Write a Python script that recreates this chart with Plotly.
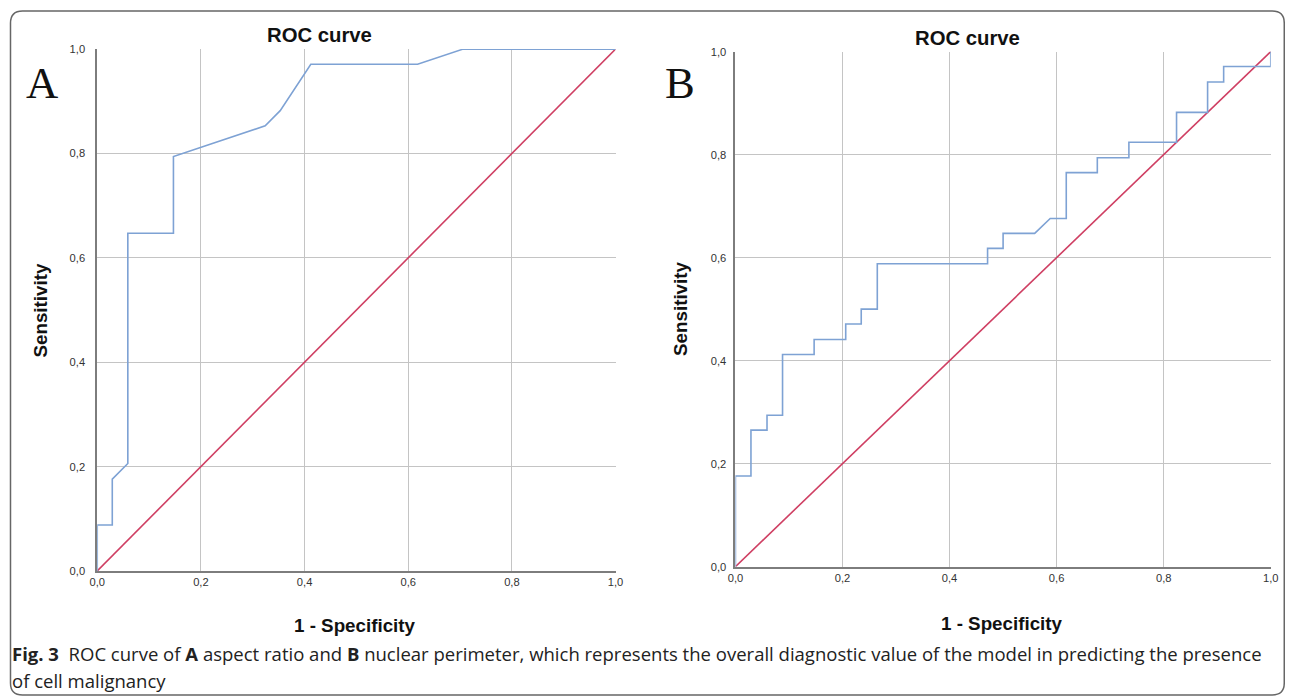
import plotly.graph_objects as go

# The page is photographed slightly scaled and offset; these constants map the
# intended screen position to the figure's own pixel position.
SX, OX = 0.987, 15.5
SY, OY = 0.983, 13.9
W, H = 1290, 695

# ---- data ----
a_fpr = [0.000, 0.000, 0.029, 0.029, 0.059, 0.059, 0.147, 0.147, 0.324, 0.353, 0.412, 0.618, 0.706, 1.000]
a_tpr = [0.000, 0.088, 0.088, 0.176, 0.206, 0.647, 0.647, 0.794, 0.853, 0.882, 0.971, 0.971, 1.000, 1.000]

b_fpr = [0.000, 0.000, 0.029, 0.029, 0.059, 0.059, 0.088, 0.088, 0.147, 0.147, 0.206, 0.206,
         0.235, 0.235, 0.265, 0.265, 0.471, 0.471, 0.500, 0.500, 0.559, 0.588, 0.618, 0.618,
         0.676, 0.676, 0.735, 0.735, 0.824, 0.824, 0.882, 0.882, 0.912, 0.912, 1.000, 1.000]
b_tpr = [0.000, 0.176, 0.176, 0.265, 0.265, 0.294, 0.294, 0.412, 0.412, 0.441, 0.441, 0.471,
         0.471, 0.500, 0.500, 0.588, 0.588, 0.618, 0.618, 0.647, 0.647, 0.676, 0.676, 0.765,
         0.765, 0.794, 0.794, 0.824, 0.824, 0.882, 0.882, 0.941, 0.941, 0.971, 0.971, 1.000]

diag = [0.0, 1.0]

tick_vals = [0.0, 0.2, 0.4, 0.6, 0.8, 1.0]
tick_text = ["0,0", "0,2", "0,4", "0,6", "0,8", "1,0"]
grid_x = [0.2, 0.4, 0.6, 0.8]
grid_y = [0.2, 0.4, 0.6, 0.8, 1.0]

BLUE = "#7ea2d4"
RED = "#cf3f63"
GRID = "#c4c4c4"
AXIS = "#7d7d7d"

def px(x):
    return ((x - OX) / SX) / W

def py(y):
    return 1 - ((y - OY) / SY) / H

def fs(s):
    return s / ((SX + SY) / 2)

fig = go.Figure()

for fpr, tpr, xa, ya in [(a_fpr, a_tpr, "x", "y"), (b_fpr, b_tpr, "x2", "y2")]:
    fig.add_trace(go.Scatter(x=diag, y=diag, mode="lines", xaxis=xa, yaxis=ya,
                             line=dict(color=RED, width=1.6), cliponaxis=False,
                             showlegend=False, hoverinfo="skip"))
    fig.add_trace(go.Scatter(x=fpr, y=tpr, mode="lines", xaxis=xa, yaxis=ya,
                             line=dict(color=BLUE, width=1.6), cliponaxis=False,
                             showlegend=False))

tickfont = dict(family="Liberation Sans, Arial, sans-serif", size=fs(11), color="#333333")

def xaxis(domain, anchor):
    return dict(domain=domain, anchor=anchor, range=[0, 1], tickvals=tick_vals, ticktext=tick_text,
                showgrid=False, zeroline=False, showline=True, linecolor=AXIS, linewidth=1.8,
                ticks="", tickfont=tickfont, fixedrange=True,
                minor=dict(tickvals=grid_x, showgrid=True, gridcolor=GRID, gridwidth=1.2, ticks=""))

def yaxis(domain, anchor, standoff):
    return dict(domain=domain, anchor=anchor, range=[0, 1], tickvals=tick_vals, ticktext=tick_text,
                showgrid=False, zeroline=False, showline=True, linecolor=AXIS, linewidth=1.8,
                ticks="", tickfont=tickfont, ticklabelstandoff=standoff, fixedrange=True,
                minor=dict(tickvals=grid_y, showgrid=True, gridcolor=GRID, gridwidth=1.2, ticks=""))

# panel boxes in screen pixels
ax0, ax1, ay1, ay0 = 96.7, 614.7, 49.0, 571.0
bx0, bx1, by1, by0 = 734.5, 1269.5, 51.5, 566.7

fig.update_layout(
    width=W, height=H, margin=dict(l=0, r=0, t=0, b=0),
    paper_bgcolor="white", plot_bgcolor="white",
    xaxis=xaxis([px(ax0), px(ax1)], "y"),
    yaxis=yaxis([py(ay0), py(ay1)], "x", 8),
    xaxis2=xaxis([px(bx0), px(bx1)], "y2"),
    yaxis2=yaxis([py(by0), py(by1)], "x2", 5),
)

# outer rounded border
L, T, R, B, r = 10, 11, 1283, 695, 12
path = (f"M {px(L+r)},{py(T)} L {px(R-r)},{py(T)} Q {px(R)},{py(T)} {px(R)},{py(T+r)} "
        f"L {px(R)},{py(B-r)} Q {px(R)},{py(B)} {px(R-r)},{py(B)} "
        f"L {px(L+r)},{py(B)} Q {px(L)},{py(B)} {px(L)},{py(B-r)} "
        f"L {px(L)},{py(T+r)} Q {px(L)},{py(T)} {px(L+r)},{py(T)} Z")
fig.add_shape(type="path", path=path, xref="paper", yref="paper",
              line=dict(color="#666666", width=1.5), layer="below")

sans = "Liberation Sans, Arial, sans-serif"

def ann(text, x, y, size, family=sans, angle=0, xanchor="center", yanchor="middle", color="#111111"):
    fig.add_annotation(text=text, x=px(x), y=py(y), xref="paper", yref="paper", showarrow=False,
                       font=dict(family=family, size=fs(size), color=color), textangle=angle,
                       xanchor=xanchor, yanchor=yanchor, align="left")

ann("<b>ROC curve</b>", 319, 35, 20)
ann("<b>ROC curve</b>", 966, 38, 20)
ann("A", 41, 83, 44, family="Liberation Serif, Times New Roman, serif")
ann("B", 679, 83, 44, family="Liberation Serif, Times New Roman, serif")
ann("<b>Sensitivity</b>", 40, 311, 18.5, angle=-90)
ann("<b>Sensitivity</b>", 679, 309, 18.5, angle=-90)
ann("<b>1 - Specificity</b>", 354, 626, 18.5)
ann("<b>1 - Specificity</b>", 1001, 624, 18.5)

cap_font = "Open Sans, sans-serif"
ann("<b>Fig. 3</b>  ROC curve of <b>A</b> aspect ratio and <b>B</b> nuclear perimeter, which represents "
    "the overall diagnostic value of the model in predicting the presence",
    10, 654, 18.25, family=cap_font, xanchor="left", color="#222222")
ann("of cell malignancy", 10, 681, 18.25, family=cap_font, xanchor="left", color="#222222")

fig.write_html("out.html")
